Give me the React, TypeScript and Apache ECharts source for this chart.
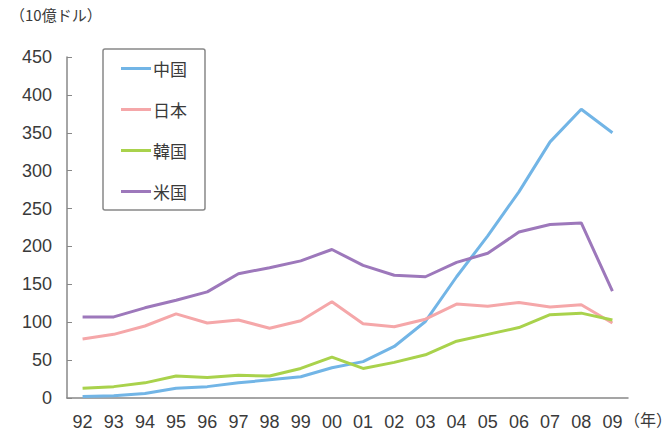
import React, { useEffect, useRef } from "react";
import * as echarts from "echarts";

// Years (two-digit labels) and yearly values in billions of USD
const years = ["92", "93", "94", "95", "96", "97", "98", "99", "00", "01", "02", "03", "04", "05", "06", "07", "08", "09"];
const china = [2, 3, 6, 13, 15, 20, 24, 28, 40, 48, 68, 101, 160, 214, 272, 338, 381, 350];
const japan = [78, 84, 95, 111, 99, 103, 92, 102, 127, 98, 94, 104, 124, 121, 126, 120, 123, 99];
const korea = [13, 15, 20, 29, 27, 30, 29, 39, 54, 39, 47, 57, 75, 84, 93, 110, 112, 103];
const usa = [107, 107, 119, 129, 140, 164, 172, 181, 196, 175, 162, 160, 179, 191, 219, 229, 231, 141];

const seriesNames = ["中国", "日本", "韓国", "米国"];
const seriesData = [china, japan, korea, usa];
const colors = ["#72b5e6", "#f5a7a9", "#a9d24c", "#9d78bb"];

const FONT = "'Liberation Sans', Arial, 'Noto Sans CJK JP', sans-serif";
const CJK_FONT = "'Noto Sans CJK JP', 'Liberation Sans', sans-serif";
const TEXT = "#3a3a3a";

export default function App() {
  const ref = useRef<HTMLDivElement>(null);

  useEffect(() => {
    if (!ref.current) return;
    const chart = echarts.init(ref.current, undefined, { renderer: "svg" });
    chart.setOption({
      animation: false,
      backgroundColor: "#ffffff",
      textStyle: { fontFamily: FONT },
      grid: { left: 67, right: 44, top: 57, bottom: 37 },
      legend: {
        orient: "vertical",
        left: 103,
        top: 49,
        data: seriesNames,
        icon: "rect",
        itemWidth: 30,
        itemHeight: 3,
        itemGap: 24,
        padding: [11, 18, 10, 18],
        borderColor: "#888888",
        borderWidth: 1.5,
        borderRadius: 2,
        textStyle: { fontSize: 17, color: TEXT, fontFamily: CJK_FONT, padding: [0, 0, 0, -3] },
      },
      xAxis: {
        type: "category",
        data: years,
        boundaryGap: true,
        axisLine: { lineStyle: { color: "#888888", width: 1.5 } },
        axisTick: { inside: true, length: 5, lineStyle: { color: "#888888" } },
        axisLabel: { fontSize: 18, color: TEXT, margin: 15, fontFamily: FONT },
      },
      yAxis: {
        type: "value",
        min: 0,
        max: 450,
        interval: 50,
        axisLine: { show: true, lineStyle: { color: "#888888", width: 1.5 } },
        axisTick: { show: true, inside: true, length: 5, lineStyle: { color: "#888888" } },
        splitLine: { show: false },
        axisLabel: { fontSize: 18, color: TEXT, margin: 15, fontFamily: FONT },
      },
      graphic: [
        {
          type: "text",
          left: 10,
          top: 7,
          style: { text: "（10億ドル）", fontSize: 15, fill: TEXT, fontFamily: CJK_FONT },
        },
        {
          type: "text",
          left: 624,
          top: 411,
          style: { text: "（年）", fontSize: 16, fill: TEXT, fontFamily: CJK_FONT },
        },
      ],
      series: seriesNames.map((name, i) => ({
        name,
        type: "line",
        data: seriesData[i],
        symbol: "none",
        color: colors[i],
        lineStyle: { width: 3, color: colors[i] },
      })),
    });
    return () => chart.dispose();
  }, []);

  return <div ref={ref} style={{ width: 672, height: 435, position: "absolute", left: 0, top: 0 }} />;
}
